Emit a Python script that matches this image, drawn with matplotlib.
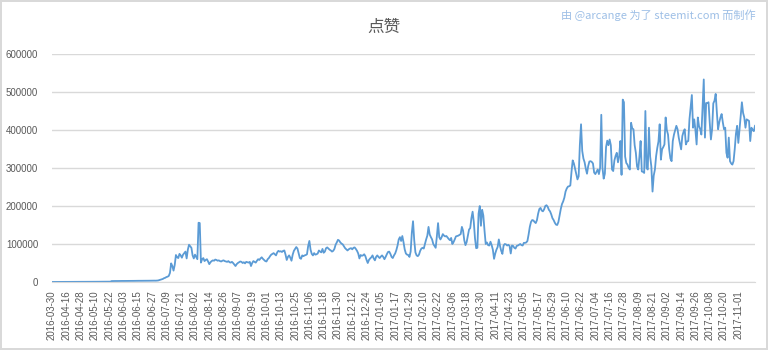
import numpy as np
import matplotlib
matplotlib.use('Agg')
import matplotlib.pyplot as plt

# daily likes, in thousands
likes_k = [
    # 2016-03-30 .. flat start
    0.1, 0.1, 0.2, 0.2, 0.1, 0.2, 0.3, 0.2, 0.2, 0.3,
    0.3, 0.2, 0.3, 0.4, 0.3, 0.3, 0.4, 0.3, 0.4, 0.4,
    0.5, 0.4, 0.4, 0.5, 0.5, 0.4, 0.5, 0.6, 0.5, 0.5,
    0.6, 0.5, 0.6, 0.6, 0.7, 0.6, 0.6, 0.7, 0.7, 0.6,
    0.7, 0.8, 0.7, 0.8, 0.8, 0.7, 0.8, 0.9, 0.8, 0.9,
    2.4, 2.5, 2.5, 2.6, 2.5, 2.6, 2.7, 2.6, 2.7, 2.8,
    2.7, 2.8, 2.8, 2.9, 2.8, 2.9, 3.0, 2.9, 3.0, 3.0,
    3.1, 3.0, 3.1, 3.2, 3.1, 3.2, 3.2, 3.3, 3.2, 3.3,
    3.4, 3.3, 3.4, 3.5, 3.4, 3.5, 3.6, 3.5, 3.7,
    # ramp up, summer 2016
    4, 5, 6, 7, 8, 10, 11, 13, 14, 16,
    24, 49, 42, 30, 45, 71, 65, 63, 74, 70,
    64, 72, 76, 80, 62, 85, 98, 94, 90, 70,
    62, 72, 66, 60, 156, 155, 51, 60, 63, 55,
    58, 60, 54, 47, 52, 55, 57, 56, 59, 58,
    56, 57, 55, 54, 56, 57, 55, 54, 53, 55,
    52, 51, 53, 50, 46, 42, 47, 50, 52, 54,
    53, 50, 52, 49, 53, 52, 51, 53, 42, 50,
    55, 53, 51, 56, 60, 58, 62, 65, 61, 58,
    55, 54, 60, 63, 68, 72, 74, 76, 73, 70,
    78, 82, 80, 81, 79, 82, 83, 72, 58, 66,
    70, 64, 56, 72, 82, 87, 92, 88, 75, 63,
    # autumn 2016 - spring 2017
    61, 70, 68, 70, 71, 73, 95, 108, 85, 74,
    70, 76, 72, 73, 75, 83, 80, 78, 87, 77,
    80, 89, 91, 88, 85, 83, 80, 82, 87, 98,
    104, 111, 109, 104, 101, 99, 94, 89, 86, 83,
    86, 88, 89, 86, 90, 91, 87, 82, 75, 62,
    71, 69, 70, 73, 68, 58, 50, 58, 62, 65,
    70, 62, 57, 66, 70, 66, 63, 67, 70, 66,
    60, 66, 73, 79, 80, 74, 66, 63, 70, 75,
    84, 96, 112, 118, 108, 121, 105, 86, 75, 72,
    71, 66, 80, 130, 160, 110, 78, 70, 68, 72,
    82, 88, 90, 88, 100, 112, 122, 145, 125, 118,
    112, 100, 95, 90, 120, 155, 118, 112, 118, 126,
    122, 120, 121, 117, 113, 110, 116, 100, 105, 112,
    120, 121, 122, 124, 126, 145, 135, 110, 97, 105,
    122, 138, 142, 168, 185, 158, 115, 89, 90, 180,
    200, 148, 190, 175, 135, 100, 104, 97, 96, 106,
    97, 85, 61, 75, 85, 92, 112, 95, 82, 74,
    96, 100, 99, 96, 98, 95, 75, 96, 95, 90,
    88, 95, 96, 98, 100, 97, 96, 103, 103, 104,
    # growth, summer 2017
    108, 125, 145, 158, 163, 162, 158, 155, 163, 180,
    192, 195, 188, 186, 191, 200, 202, 198, 190, 186,
    178, 168, 163, 156, 151, 150, 158, 175, 192, 205,
    212, 222, 238, 246, 251, 252, 254, 290, 320, 312,
    298, 285, 270, 278, 360, 415, 345, 325, 315, 298,
    285, 305, 317, 318, 316, 312, 288, 284, 290, 296,
    284, 300, 440, 300, 272, 285, 355, 372, 360,
    375, 360, 296, 292, 320, 332, 340, 315, 330, 371,
    282, 480, 473, 330, 313, 309, 300, 296, 419, 404,
    402, 360, 340, 304, 296, 330, 371, 291, 290, 287,
    450, 300, 296, 406, 330, 304, 238, 280, 296, 331,
    353, 370, 415, 322, 349, 355, 362, 433, 400, 388,
    349, 325, 318, 371, 388, 400, 411, 402, 380, 365,
    349, 384, 395, 402, 362, 370, 371, 428, 460, 492,
    406, 428, 400, 362, 433, 410, 402, 388, 460, 533,
    380, 471, 471, 473, 420, 375, 402, 470, 477, 495,
    446, 402, 420, 433, 442, 420, 402, 406, 340, 327,
    380, 318, 312, 309, 318, 350, 390, 411, 366, 400,
    437, 473, 445, 433, 406, 428, 426, 424, 371, 406,
    400, 397, 411,
]

# every 12th category is labelled
tick_labels = [
    '2016-03-30', '2016-04-16', '2016-04-28', '2016-05-10', '2016-05-22',
    '2016-06-03', '2016-06-15', '2016-06-27', '2016-07-09', '2016-07-21',
    '2016-08-02', '2016-08-14', '2016-08-26', '2016-09-07', '2016-09-19',
    '2016-10-01', '2016-10-13', '2016-10-25', '2016-11-06', '2016-11-18',
    '2016-11-30', '2016-12-12', '2016-12-24', '2017-01-05', '2017-01-17',
    '2017-01-29', '2017-02-10', '2017-02-22', '2017-03-06', '2017-03-18',
    '2017-03-30', '2017-04-11', '2017-04-23', '2017-05-05', '2017-05-17',
    '2017-05-29', '2017-06-10', '2017-06-22', '2017-07-04', '2017-07-16',
    '2017-07-28', '2017-08-09', '2017-08-21', '2017-09-02', '2017-09-14',
    '2017-09-26', '2017-10-08', '2017-10-20', '2017-11-01',
]
label_step = 12
y_ticks = [0, 100000, 200000, 300000, 400000, 500000, 600000]

title = '点赞'
credit = '由 @arcange 为了 steemit.com 而制作'

plt.rcParams['font.family'] = ['Liberation Sans', 'Noto Sans CJK SC', 'DejaVu Sans']

values = np.array(likes_k) * 1000
x = np.arange(len(values))

fig = plt.figure(figsize=(7.68, 3.5), dpi=100)
fig.patch.set_facecolor('white')
fig.patch.set_edgecolor('#d9d9d9')
fig.patch.set_linewidth(1.5)

ax = fig.add_axes([52 / 768, 1 - 282 / 350, 703 / 768, 228 / 350])
ax.plot(x, values, color='#5b9bd5', linewidth=1.3, solid_joinstyle='round')

ax.set_xlim(0, len(values) - 1)
ax.set_ylim(0, 600000)
ax.set_yticks(y_ticks)
ax.set_yticklabels([str(v) for v in y_ticks])
ax.set_xticks(np.arange(len(tick_labels)) * label_step)
ax.set_xticklabels(tick_labels, rotation=90)

ax.grid(axis='y', color='#d9d9d9', linewidth=1)
ax.set_axisbelow(True)
for side in ['top', 'right', 'left']:
    ax.spines[side].set_visible(False)
ax.spines['bottom'].set_color('#d9d9d9')
ax.tick_params(axis='both', length=0, colors='#595959', labelsize=7)
ax.tick_params(axis='y', pad=10)
ax.tick_params(axis='x', pad=6)

fig.text(0.5, 1 - 27 / 350, title, ha='center', va='center',
         fontsize=12, color='#595959', family=['Noto Sans CJK SC', 'DejaVu Sans'])
fig.text(756 / 768, 1 - 15 / 350, credit, ha='right', va='center',
         fontsize=8, color='#9dbfe6', family=['Noto Sans CJK SC', 'DejaVu Sans'])

fig.savefig('out.png', dpi=100)
